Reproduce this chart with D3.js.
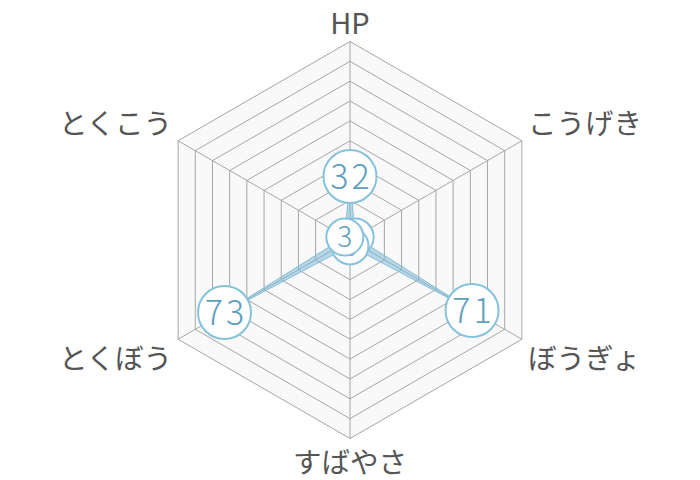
<!DOCTYPE html>
<html lang="ja">
<head>
    <meta charset="UTF-8">
    <title>Radar</title>
    <script src="https://d3js.org/d3.v7.min.js"></script>
    <style>
        body{
            margin: 0;
            background: #fff;
        }
        svg text{
            font-family: "Noto Sans CJK JP", "Noto Sans", sans-serif;
        }
        .axis_label{
            font-weight: 400;
            fill: #555;
        }
        .val_text{
            font-weight: 300;
            fill: #5d9fc0;
        }
    </style>
</head>
<body>
<svg width="700" height="480"></svg>

<script>
    // stats
    const axes = ["HP", "こうげき", "ぼうぎょ", "すばやさ", "とくぼう", "とくこう"];
    const values = [32, 3, 71, 3, 73, 3];
    const ringTicks = [10, 20, 30, 40, 50, 60, 70, 80, 90, 100];
    const maxValue = 100;

    const svg = d3.select("svg");
    const cx = 350, cy = 240, R = 198.5;

    const r = d3.scaleLinear().domain([0, maxValue]).range([0, R]);
    const angle = d3.scaleLinear().domain([0, axes.length]).range([0, 2 * Math.PI]);

    // point on axis i at value v
    function pt(i, v){
        let a = angle(i);
        return [cx + r(v) * Math.sin(a), cy - r(v) * Math.cos(a)];
    }

    const g = svg.append("g").attr("transform", `translate(${cx},${cy})`);

    const ringLine = d3.lineRadial()
        .angle((d, i) => angle(i))
        .radius(d => r(d))
        .curve(d3.curveLinearClosed);

    // background + rings
    g.append("path")
        .attr("d", ringLine(axes.map(() => maxValue)))
        .attr("fill", "#f9f9f9");

    g.selectAll(".ring")
        .data(ringTicks)
        .enter()
        .append("path")
        .attr("class", "ring")
        .attr("d", t => ringLine(axes.map(() => t)))
        .attr("fill", "none")
        .attr("stroke", "#a6a6a6")
        .attr("stroke-width", 1);

    // spokes
    g.selectAll(".spoke")
        .data(axes)
        .enter()
        .append("line")
        .attr("x1", 0).attr("y1", 0)
        .attr("x2", (d, i) => pt(i, maxValue)[0] - cx)
        .attr("y2", (d, i) => pt(i, maxValue)[1] - cy)
        .attr("stroke", "#a6a6a6")
        .attr("stroke-width", 1);

    // data polygon
    g.append("path")
        .attr("d", ringLine(values))
        .attr("fill", "rgba(125,185,215,0.55)")
        .attr("stroke", "#86bfd9")
        .attr("stroke-width", 1);

    // axis labels
    const pad = 6;
    svg.selectAll(".axis_label")
        .data(axes)
        .enter()
        .append("text")
        .attr("class", "axis_label")
        .attr("x", (d, i) => {
            let p = pt(i, maxValue);
            let s = Math.sin(angle(i));
            return p[0] + (Math.abs(s) < 0.01 ? 0 : (s > 0 ? pad : -pad));
        })
        .attr("y", (d, i) => {
            let p = pt(i, maxValue);
            let c = Math.cos(angle(i));
            if (Math.abs(c - 1) < 0.01) return p[1] - 8;
            if (Math.abs(c + 1) < 0.01) return p[1] + 34;
            return c > 0 ? p[1] - 7 : p[1] + 30;
        })
        .attr("text-anchor", (d, i) => {
            let s = Math.sin(angle(i));
            return Math.abs(s) < 0.01 ? "middle" : (s > 0 ? "start" : "end");
        })
        .attr("font-size", d => /^[A-Z]+$/.test(d) ? 29 : 28.5)
        .text(d => d);

    // value badges
    const badge = svg.selectAll(".badge")
        .data(values)
        .enter()
        .append("g")
        .attr("class", "badge")
        .attr("transform", (d, i) => `translate(${pt(i, d)[0]},${pt(i, d)[1]})`);

    badge.append("circle")
        .attr("r", d => String(d).length > 1 ? 26.5 : 18.5)
        .attr("fill", "#fff")
        .attr("stroke", "#86c2db")
        .attr("stroke-width", 2);

    badge.append("text")
        .attr("class", "val_text")
        .attr("text-anchor", "middle")
        .attr("dy", "0.36em")
        .attr("dx", d => String(d).length > 1 ? 1.5 : 0)
        .attr("letter-spacing", d => String(d).length > 1 ? 3 : 0)
        .attr("font-size", d => String(d).length > 1 ? 34 : 28)
        .text(d => d);
</script>
</body>
</html>
